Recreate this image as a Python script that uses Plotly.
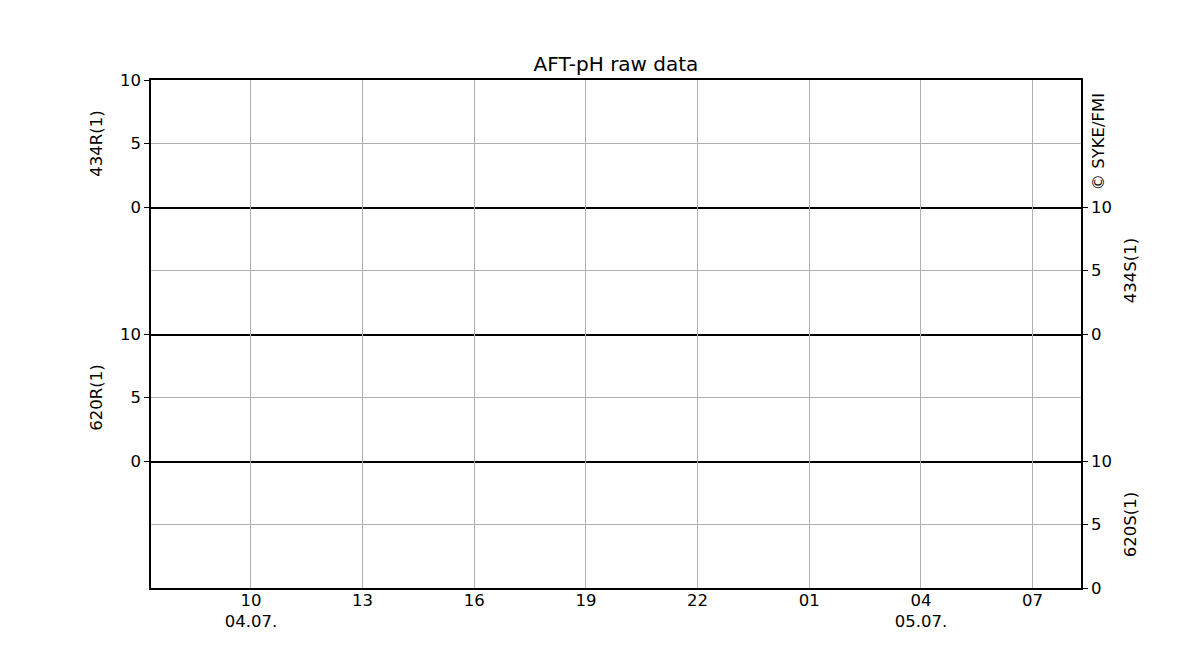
import plotly.graph_objects as go

# panels from top to bottom, each one has its own y axis on the left or right
series_names = ["434R(1)", "434S(1)", "620R(1)", "620S(1)"]
axis_sides = ["left", "right", "left", "right"]

# no measurements in this period
times = []
values_434R = []
values_434S = []
values_620R = []
values_620S = []
all_values = [values_434R, values_434S, values_620R, values_620S]

x_start = "2025-07-04 07:19"
x_end = "2025-07-05 08:18"

tick_times = ["2025-07-04 10:00", "2025-07-04 13:00", "2025-07-04 16:00",
              "2025-07-04 19:00", "2025-07-04 22:00", "2025-07-05 01:00",
              "2025-07-05 04:00", "2025-07-05 07:00"]
tick_labels = ["10<br>04.07.", "13", "16", "19", "22", "01", "04<br>05.07.", "07"]

y_ticks = [0, 5, 10]

fig = go.Figure()
n = len(series_names)
grid = "#b0b0b0"
fnt = dict(family="DejaVu Sans", size=16.5, color="black")

for i, (name, vals, side) in enumerate(zip(series_names, all_values, axis_sides)):
    k = "" if i == 0 else str(i + 1)
    fig.add_trace(go.Scatter(x=times, y=vals, mode="lines", name=name,
                             line=dict(color="#1f77b4", width=1),
                             xaxis="x" + k, yaxis="y" + k, showlegend=False))
    top = 1 - i / n
    bottom = 1 - (i + 1) / n
    last = i == n - 1
    fig.layout["xaxis" + k] = dict(
        type="date", range=[x_start, x_end], domain=[0, 1],
        anchor="y" + k, matches=None if i == 0 else "x",
        tickvals=tick_times, ticktext=tick_labels, showticklabels=last,
        tickfont=fnt, ticks="", ticklabelstandoff=-4,
        showgrid=True, gridcolor=grid, gridwidth=1,
        showline=True, linecolor="black", linewidth=1.5, mirror=(i == 0),
        zeroline=False,
    )
    fig.layout["yaxis" + k] = dict(
        domain=[bottom, top], anchor="x" + k, side=side, range=[0, 10],
        tickvals=y_ticks, ticks="outside", ticklen=5, tickcolor="black",
        tickwidth=1, tickfont=fnt,
        showgrid=True, gridcolor=grid, gridwidth=1,
        showline=True, linecolor="black", linewidth=1.5, mirror=True,
        zeroline=False,
        title=dict(text=name, standoff=13, font=fnt),
    )

fig.add_annotation(text="© SYKE/FMI", textangle=-90, xref="paper", yref="paper",
                   x=1, y=(587 - 192) / 508, xanchor="left", yanchor="bottom",
                   xshift=5, showarrow=False, font=fnt)

# the page adds a few px of body margin, so the margins are shifted to compensate
fig.update_layout(
    width=1200, height=660,
    template="none",
    plot_bgcolor="white", paper_bgcolor="white",
    font=fnt,
    title=dict(text="AFT-pH raw data", x=608 / 1200, y=1 - 56 / 660,
               xanchor="center", yanchor="middle",
               font=dict(family="DejaVu Sans", size=20, color="black")),
    margin=dict(l=143, r=127, t=72, b=80, autoexpand=False),
)

fig.write_html("out.html")
